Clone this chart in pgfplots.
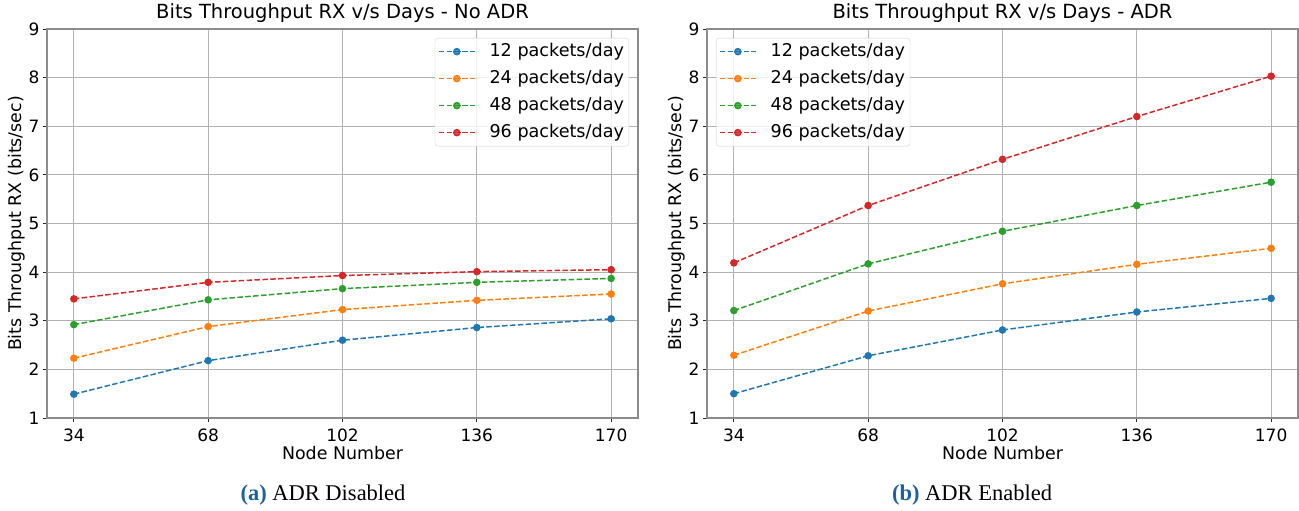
\documentclass[border=0pt]{standalone}
\usepackage{fontspec}
\setmainfont{DejaVu Sans}
\newfontfamily\capfont{Liberation Serif}
\usepackage{pgfplots}
\usepackage{pgfplotstable}
\pgfplotsset{compat=1.18}

\definecolor{tabblue}{HTML}{1F77B4}
\definecolor{taborange}{HTML}{FF7F0E}
\definecolor{tabgreen}{HTML}{2CA02C}
\definecolor{tabred}{HTML}{D62728}
\definecolor{capblue}{RGB}{28,98,158}

% node number vs throughput, ADR disabled
\pgfplotstableread{
n    p12  p24  p48  p96
34   1.49 2.23 2.92 3.45
68   2.18 2.88 3.43 3.79
102  2.60 3.23 3.66 3.93
136  2.86 3.42 3.79 4.01
170  3.04 3.55 3.87 4.05
}\noadr

% ADR enabled
\pgfplotstableread{
n    p12  p24  p48  p96
34   1.50 2.29 3.21 4.19
68   2.28 3.20 4.17 5.37
102  2.81 3.76 4.84 6.32
136  3.18 4.16 5.37 7.20
170  3.46 4.49 5.85 8.03
}\adr

\pgfplotsset{
  thrstyle/.style={
    width=591pt, height=389pt, scale only axis,
    anchor=south west,
    xmin=27.2, xmax=176.8, ymin=1, ymax=9,
    xtick={34,68,102,136,170}, ytick={1,2,...,9},
    grid=major,
    grid style={color=black!30, line width=0.8pt},
    axis line style={black!45, line width=1.4pt},
    tick align=outside, tick pos=left, major tick length=4pt,
    tick style={black!85, line width=0.8pt},
    ticklabel style={font=\fontsize{17}{17}\selectfont},
    /pgf/number format/assume math mode=true,
    xticklabel style={anchor=base, yshift=-20pt},
    label style={font=\fontsize{17.4}{18}\selectfont},
    xlabel={Node Number},
    ylabel={Bits Throughput RX (bits/sec)},
    xlabel style={at={(axis description cs:0.5,0)}, anchor=base, yshift=-42pt},
    ylabel style={at={(axis description cs:-0.0508,0.5)}, anchor=center},
    title style={font=\fontsize{19.5}{20}\selectfont,
      at={(axis description cs:0.5,1)}, anchor=base, yshift=5pt},
    legend cell align=left,
    legend style={font=\fontsize{17.6}{18}\selectfont, draw=black!18,
      rounded corners=3pt, fill=white, fill opacity=0.8, text opacity=1,
      inner xsep=3pt, inner ysep=3pt, row sep=6pt,
      nodes={text height=13pt, text depth=4pt, inner sep=2pt},
      /tikz/every odd column/.append style={column sep=12pt}},
    legend image code/.code={
      \draw[mark repeat=2, mark phase=2, #1]
        plot coordinates {(0pt,0pt) (18pt,0pt) (36pt,0pt)};},
    every axis plot/.append style={line width=1.5pt,
      dash pattern=on 5.5pt off 2.4pt, mark=*, mark size=3pt,
      mark options={solid}},
  }
}

\begin{document}
\begin{tikzpicture}
\useasboundingbox (0pt,0pt) rectangle (1299pt,511pt);

\begin{axis}[thrstyle, at={(47pt,93pt)},
  title={Bits Throughput RX v/s Days - No ADR},
  legend style={at={(0.985,0.977)}, anchor=north east}]
  \addplot[tabblue] table[x=n, y=p12] {\noadr};
  \addlegendentry{12 packets/day}
  \addplot[taborange] table[x=n, y=p24] {\noadr};
  \addlegendentry{24 packets/day}
  \addplot[tabgreen] table[x=n, y=p48] {\noadr};
  \addlegendentry{48 packets/day}
  \addplot[tabred] table[x=n, y=p96] {\noadr};
  \addlegendentry{96 packets/day}
\end{axis}

\begin{axis}[thrstyle, at={(707pt,93pt)},
  title={Bits Throughput RX v/s Days - ADR},
  legend style={at={(0.015,0.977)}, anchor=north west}]
  \addplot[tabblue] table[x=n, y=p12] {\adr};
  \addlegendentry{12 packets/day}
  \addplot[taborange] table[x=n, y=p24] {\adr};
  \addlegendentry{24 packets/day}
  \addplot[tabgreen] table[x=n, y=p48] {\adr};
  \addlegendentry{48 packets/day}
  \addplot[tabred] table[x=n, y=p96] {\adr};
  \addlegendentry{96 packets/day}
\end{axis}

% subfigure captions
\node[font=\capfont\fontsize{22.5}{24}\selectfont] at (323pt,16pt)
  {\textcolor{capblue}{\textbf{(a)}} ADR Disabled};
\node[font=\capfont\fontsize{22.5}{24}\selectfont] at (972pt,16pt)
  {\textcolor{capblue}{\textbf{(b)}} ADR Enabled};
\end{tikzpicture}
\end{document}
